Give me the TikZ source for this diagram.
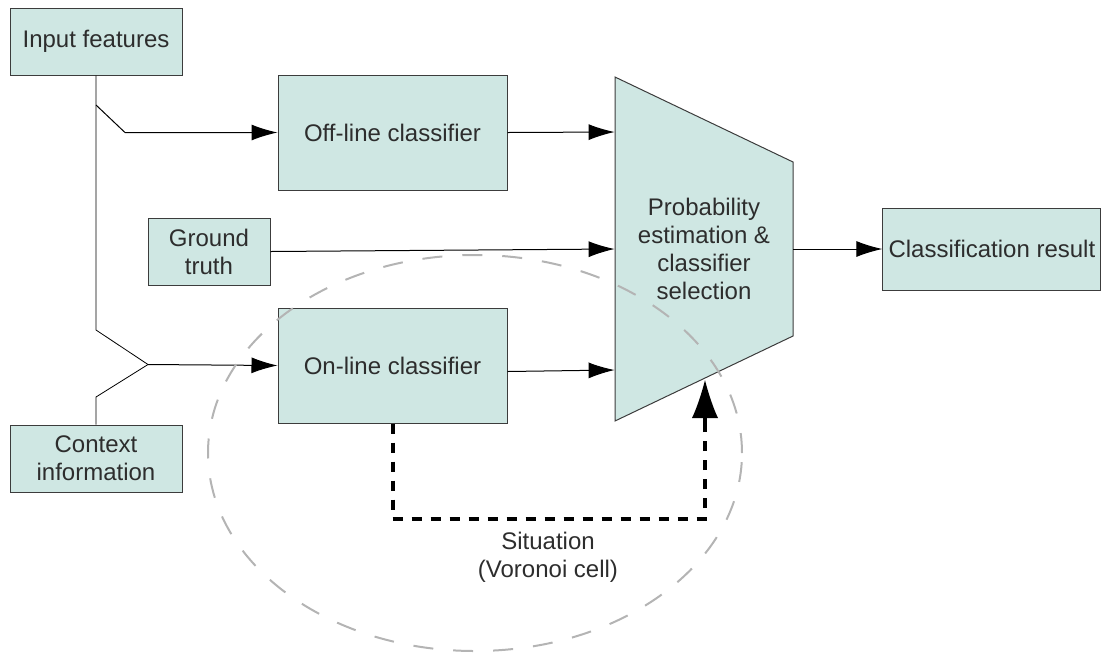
\documentclass[tikz,border=0pt]{standalone}
\usepackage{fontspec}
\setmainfont{Liberation Sans}
\usetikzlibrary{arrows.meta, positioning}
\definecolor{boxfill}{RGB}{207,231,227}
\definecolor{boxline}{RGB}{60,60,60}
\definecolor{textgray}{RGB}{45,45,45}
\definecolor{cellgray}{RGB}{180,180,180}
\tikzset{%
>={Latex[width=8pt,length=13pt]},
% Specifications for style of nodes:
shaded/.style = {draw=boxline, fill=boxfill, line width=0.5pt},
base/.style = {shaded, text=textgray, align=center, inner sep=0pt},
block/.style = {base, rectangle},
% Specifications for style of connectors:
flow/.style = {line width=0.5pt, ->},
situ/.style = {line width=2pt, dash pattern=on 5pt off 4.5pt},
bigtip/.style = {line width=2pt, -{Latex[width=13pt,length=19pt,line width=0pt,fill=black]}},
cell/.style = {cellgray, line width=1pt, dash pattern=on 10pt off 10pt},
}

\begin{document}
\begin{tikzpicture}[
        x=0.5pt, y=-0.5pt,
        every node/.style={font=\fontsize{12}{14}\selectfont},
        node distance=1cm
    ]
    \useasboundingbox (0,0) rectangle (1104,655);
    % Specification of nodes (position, etc.)
    \node (inp) [block, minimum width=86pt, minimum height=33.5pt] at (96,41.5) {Input features};
    \node (ctx) [block, minimum width=86pt, minimum height=33.5pt] at (96,458.5) {Context\\information};
    \node (gt) [block, minimum width=61pt, minimum height=33.5pt] at (209,251.5) {Ground\\truth};
    \node (offline) [block, minimum width=114.5pt, minimum height=57.5pt] at (392.5,132.5) {Off-line classifier};
    \node (online) [block, minimum width=114.5pt, minimum height=57.5pt, below=58.5pt of offline] {On-line classifier};
    \path [shaded] (615,77) -- (793,162) -- (793,336) -- (615,421) -- cycle;
    \node (sel) [align=center, text=textgray, minimum width=89pt, minimum height=172pt] at (704,249) {Probability\\estimation \&\\classifier\\selection};
    \node (result) [block, minimum width=109pt, minimum height=41pt, right=44.5pt of sel] {Classification result};
    \node (situation) [align=center, text=textgray] at (548,557) {Situation\\(Voronoi cell)};
    \coordinate (split) at (96,105);
    \coordinate (join) at (148,364.5);
    \coordinate (selIn) at (705,380);
    \coordinate (tipStart) at (705,422);

    \draw [flow] (split) -- (125,132.5) -- (offline.west);
    \draw (inp.south) -- (96,330) -- (join);
    \draw (ctx.north) -- (96,397) -- (join);
    \draw [flow] (join) -- (online.west);
    \draw [flow] (offline.east) -- ([yshift=58.5pt]sel.west);
    \draw [flow] (gt.east) -- (sel.west);
    \draw [flow] ([yshift=-3pt]online.east) -- ([yshift=-60.5pt]sel.west);
    \draw [flow] (sel.east) -- (result.west);
    \draw [situ] (online.south) -- ++(0,95) -| (tipStart);
    \draw [bigtip] (tipStart) -- (selIn);
    \draw [cell] (475,453) ellipse [x radius=133.5pt, y radius=99pt];
\end{tikzpicture}
\end{document}
